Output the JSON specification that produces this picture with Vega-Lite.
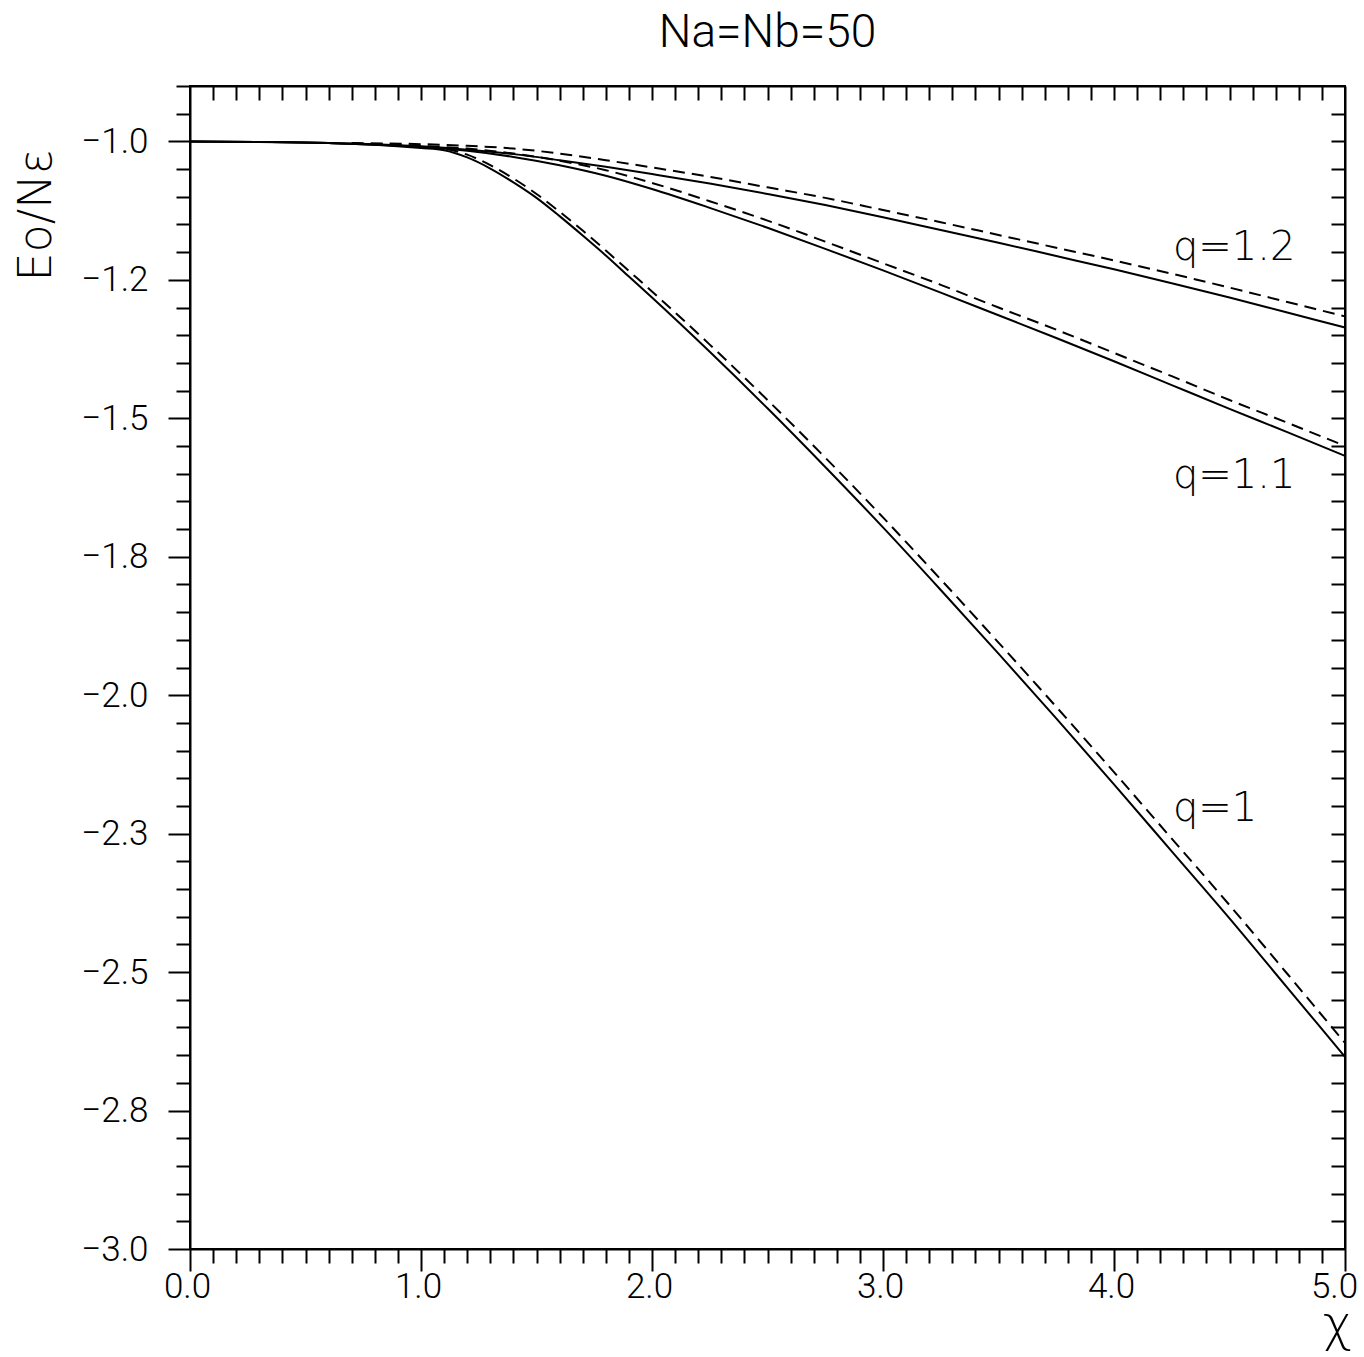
{
  "$schema": "https://vega.github.io/schema/vega-lite/v6.json",
  "width": 1155,
  "height": 1163,
  "autosize": {"type": "none"},
  "padding": {"left": 190, "top": 86, "right": 19, "bottom": 108},
  "background": "white",
  "config": {
    "view": {"stroke": "black", "strokeWidth": 2},
    "font": "Roboto",
    "axis": {"grid": false, "domainColor": "black", "tickColor": "black", "labelColor": "black", "titleColor": "black", "domainWidth": 2, "tickWidth": 2, "labelFont": "Roboto", "titleFont": "DejaVu Sans", "labelFontWeight": 300, "titleFontWeight": 200, "labelFlush": false, "labelOverlap": false, "labelBound": false}
  },
  "title": {"text": "Na=Nb=50", "fontSize": 46, "fontWeight": 300, "font": "Roboto", "color": "black", "baseline": "alphabetic", "offset": 38, "dy": 46, "anchor": "middle"},
  "datasets": {
    "solid": [
      {"q": "1", "x": 0, "y": -1.0}, {"q": "1", "x": 0.3, "y": -1.001}, {"q": "1", "x": 0.6, "y": -1.003}, {"q": "1", "x": 0.8, "y": -1.006},
      {"q": "1", "x": 1.0, "y": -1.012}, {"q": "1", "x": 1.1, "y": -1.016}, {"q": "1", "x": 1.2, "y": -1.029}, {"q": "1", "x": 1.3, "y": -1.049},
      {"q": "1", "x": 1.4, "y": -1.074}, {"q": "1", "x": 1.5, "y": -1.102}, {"q": "1", "x": 1.6, "y": -1.135}, {"q": "1", "x": 1.7, "y": -1.170},
      {"q": "1", "x": 1.8, "y": -1.206}, {"q": "1", "x": 1.9, "y": -1.244}, {"q": "1", "x": 2.0, "y": -1.282}, {"q": "1", "x": 2.25, "y": -1.380},
      {"q": "1", "x": 2.5, "y": -1.482}, {"q": "1", "x": 2.75, "y": -1.588}, {"q": "1", "x": 3.0, "y": -1.697}, {"q": "1", "x": 3.25, "y": -1.810},
      {"q": "1", "x": 3.5, "y": -1.925}, {"q": "1", "x": 3.75, "y": -2.042}, {"q": "1", "x": 4.0, "y": -2.161}, {"q": "1", "x": 4.25, "y": -2.282},
      {"q": "1", "x": 4.5, "y": -2.403}, {"q": "1", "x": 4.75, "y": -2.528}, {"q": "1", "x": 5.0, "y": -2.653},
      {"q": "1.1", "x": 0, "y": -1.0}, {"q": "1.1", "x": 0.3, "y": -1.001}, {"q": "1.1", "x": 0.6, "y": -1.003}, {"q": "1.1", "x": 0.8, "y": -1.006},
      {"q": "1.1", "x": 1.0, "y": -1.010}, {"q": "1.1", "x": 1.2, "y": -1.017}, {"q": "1.1", "x": 1.4, "y": -1.028}, {"q": "1.1", "x": 1.6, "y": -1.043},
      {"q": "1.1", "x": 1.8, "y": -1.062}, {"q": "1.1", "x": 2.0, "y": -1.086}, {"q": "1.1", "x": 2.25, "y": -1.120}, {"q": "1.1", "x": 2.5, "y": -1.156},
      {"q": "1.1", "x": 2.75, "y": -1.194}, {"q": "1.1", "x": 3.0, "y": -1.233}, {"q": "1.1", "x": 3.25, "y": -1.273}, {"q": "1.1", "x": 3.5, "y": -1.314},
      {"q": "1.1", "x": 3.75, "y": -1.355}, {"q": "1.1", "x": 4.0, "y": -1.397}, {"q": "1.1", "x": 4.25, "y": -1.440}, {"q": "1.1", "x": 4.5, "y": -1.483},
      {"q": "1.1", "x": 4.75, "y": -1.525}, {"q": "1.1", "x": 5.0, "y": -1.568},
      {"q": "1.2", "x": 0, "y": -1.0}, {"q": "1.2", "x": 0.3, "y": -1.001}, {"q": "1.2", "x": 0.6, "y": -1.003}, {"q": "1.2", "x": 0.8, "y": -1.005},
      {"q": "1.2", "x": 1.0, "y": -1.009}, {"q": "1.2", "x": 1.2, "y": -1.015}, {"q": "1.2", "x": 1.4, "y": -1.023}, {"q": "1.2", "x": 1.6, "y": -1.034},
      {"q": "1.2", "x": 1.8, "y": -1.046}, {"q": "1.2", "x": 2.0, "y": -1.059}, {"q": "1.2", "x": 2.25, "y": -1.076}, {"q": "1.2", "x": 2.5, "y": -1.095},
      {"q": "1.2", "x": 2.75, "y": -1.115}, {"q": "1.2", "x": 3.0, "y": -1.137}, {"q": "1.2", "x": 3.25, "y": -1.160}, {"q": "1.2", "x": 3.5, "y": -1.183},
      {"q": "1.2", "x": 3.75, "y": -1.207}, {"q": "1.2", "x": 4.0, "y": -1.231}, {"q": "1.2", "x": 4.25, "y": -1.256}, {"q": "1.2", "x": 4.5, "y": -1.282},
      {"q": "1.2", "x": 4.75, "y": -1.309}, {"q": "1.2", "x": 5.0, "y": -1.336}
    ],
    "dashed": [
      {"q": "1", "x": 0.7, "y": -1.004}, {"q": "1", "x": 0.9, "y": -1.007}, {"q": "1", "x": 1.0, "y": -1.010}, {"q": "1", "x": 1.1, "y": -1.013},
      {"q": "1", "x": 1.2, "y": -1.024}, {"q": "1", "x": 1.3, "y": -1.043}, {"q": "1", "x": 1.4, "y": -1.067}, {"q": "1", "x": 1.5, "y": -1.095},
      {"q": "1", "x": 1.6, "y": -1.127}, {"q": "1", "x": 1.7, "y": -1.161}, {"q": "1", "x": 1.8, "y": -1.197}, {"q": "1", "x": 1.9, "y": -1.234},
      {"q": "1", "x": 2.0, "y": -1.271}, {"q": "1", "x": 2.25, "y": -1.367}, {"q": "1", "x": 2.5, "y": -1.467}, {"q": "1", "x": 2.75, "y": -1.571},
      {"q": "1", "x": 3.0, "y": -1.679}, {"q": "1", "x": 3.25, "y": -1.791}, {"q": "1", "x": 3.5, "y": -1.905}, {"q": "1", "x": 3.75, "y": -2.021},
      {"q": "1", "x": 4.0, "y": -2.139}, {"q": "1", "x": 4.25, "y": -2.259}, {"q": "1", "x": 4.5, "y": -2.379}, {"q": "1", "x": 4.75, "y": -2.503},
      {"q": "1", "x": 5.0, "y": -2.628},
      {"q": "1.1", "x": 0.7, "y": -1.004}, {"q": "1.1", "x": 1.0, "y": -1.008}, {"q": "1.1", "x": 1.2, "y": -1.013}, {"q": "1.1", "x": 1.4, "y": -1.022},
      {"q": "1.1", "x": 1.6, "y": -1.035}, {"q": "1.1", "x": 1.8, "y": -1.052}, {"q": "1.1", "x": 2.0, "y": -1.075}, {"q": "1.1", "x": 2.25, "y": -1.108},
      {"q": "1.1", "x": 2.5, "y": -1.143}, {"q": "1.1", "x": 2.75, "y": -1.181}, {"q": "1.1", "x": 3.0, "y": -1.220}, {"q": "1.1", "x": 3.25, "y": -1.259},
      {"q": "1.1", "x": 3.5, "y": -1.300}, {"q": "1.1", "x": 3.75, "y": -1.340}, {"q": "1.1", "x": 4.0, "y": -1.382}, {"q": "1.1", "x": 4.25, "y": -1.424},
      {"q": "1.1", "x": 4.5, "y": -1.467}, {"q": "1.1", "x": 4.75, "y": -1.508}, {"q": "1.1", "x": 5.0, "y": -1.550},
      {"q": "1.2", "x": 0.7, "y": -1.003}, {"q": "1.2", "x": 1.0, "y": -1.005}, {"q": "1.2", "x": 1.2, "y": -1.008}, {"q": "1.2", "x": 1.4, "y": -1.013},
      {"q": "1.2", "x": 1.6, "y": -1.022}, {"q": "1.2", "x": 1.8, "y": -1.034}, {"q": "1.2", "x": 2.0, "y": -1.047}, {"q": "1.2", "x": 2.25, "y": -1.064},
      {"q": "1.2", "x": 2.5, "y": -1.083}, {"q": "1.2", "x": 2.75, "y": -1.102}, {"q": "1.2", "x": 3.0, "y": -1.124}, {"q": "1.2", "x": 3.25, "y": -1.146},
      {"q": "1.2", "x": 3.5, "y": -1.169}, {"q": "1.2", "x": 3.75, "y": -1.192}, {"q": "1.2", "x": 4.0, "y": -1.215}, {"q": "1.2", "x": 4.25, "y": -1.239},
      {"q": "1.2", "x": 4.5, "y": -1.264}, {"q": "1.2", "x": 4.75, "y": -1.290}, {"q": "1.2", "x": 5.0, "y": -1.316}
    ],
    "labels": [
      {"x": 4.255, "y": -1.215, "label": "q=1.2"},
      {"x": 4.255, "y": -1.625, "label": "q=1.1"},
      {"x": 4.255, "y": -2.228, "label": "q=1"}
    ]
  },
  "layer": [
    {
      "data": {"name": "solid"},
      "mark": {"type": "line", "color": "black", "strokeWidth": 2, "interpolate": "monotone"},
      "encoding": {
        "x": {"field": "x", "type": "quantitative", "scale": {"domain": [0, 5], "nice": false, "zero": false},
          "axis": {"orient": "bottom", "values": [0, 1, 2, 3, 4, 5], "format": ".1f", "tickSize": 22, "labelFontSize": 35, "labelPadding": -2,
            "labelOffset": {"condition": {"test": "datum.value == 5", "value": -11}, "value": -3},
            "title": "χ", "titleFontSize": 50, "titleX": 1147, "titleY": 91, "titleAlign": "center", "titleBaseline": "alphabetic", "titleAngle": 0}},
        "y": {"field": "y", "type": "quantitative", "scale": {"domain": [-3, -0.9], "nice": false, "zero": false},
          "axis": {"orient": "left", "values": [-1, -1.25, -1.5, -1.75, -2, -2.25, -2.5, -2.75, -3], "format": ".1f",
            "labelExpr": "datum.value == -1.25 ? '−1.2' : datum.value == -1.75 ? '−1.8' : datum.value == -2.25 ? '−2.3' : datum.value == -2.75 ? '−2.8' : datum.label",
            "tickSize": 22, "labelFontSize": 35, "labelPadding": 20,
            "title": "Eo/Nε", "titleFontSize": 46, "titleX": -140, "titleY": 129, "titleAngle": -90, "titleAlign": "center", "titleBaseline": "alphabetic"}},
        "detail": {"field": "q"}
      }
    },
    {
      "data": {"name": "labels"},
      "mark": {"type": "text", "align": "left", "baseline": "alphabetic", "fontSize": 40, "fontWeight": 200, "font": "DejaVu Sans", "color": "black"},
      "encoding": {
        "x": {"field": "x", "type": "quantitative",
          "axis": {"orient": "bottom", "values": [0.1,0.2,0.3,0.4,0.5,0.6,0.7,0.8,0.9,1.1,1.2,1.3,1.4,1.5,1.6,1.7,1.8,1.9,2.1,2.2,2.3,2.4,2.5,2.6,2.7,2.8,2.9,3.1,3.2,3.3,3.4,3.5,3.6,3.7,3.8,3.9,4.1,4.2,4.3,4.4,4.5,4.6,4.7,4.8,4.9], "tickSize": 14, "labels": false, "domain": false, "title": null}},
        "y": {"field": "y", "type": "quantitative",
          "axis": {"orient": "left", "values": [-0.9,-0.95,-1.05,-1.1,-1.15,-1.2,-1.3,-1.35,-1.4,-1.45,-1.55,-1.6,-1.65,-1.7,-1.8,-1.85,-1.9,-1.95,-2.05,-2.1,-2.15,-2.2,-2.3,-2.35,-2.4,-2.45,-2.55,-2.6,-2.65,-2.7,-2.8,-2.85,-2.9,-2.95], "tickSize": 14, "labels": false, "domain": false, "title": null}},
        "text": {"field": "label"}
      }
    },
    {
      "data": {"name": "dashed"},
      "mark": {"type": "line", "color": "black", "strokeWidth": 2, "strokeDash": [12, 7], "interpolate": "monotone"},
      "encoding": {
        "x": {"field": "x", "type": "quantitative",
          "axis": {"orient": "top", "values": [0.1,0.2,0.3,0.4,0.5,0.6,0.7,0.8,0.9,1,1.1,1.2,1.3,1.4,1.5,1.6,1.7,1.8,1.9,2,2.1,2.2,2.3,2.4,2.5,2.6,2.7,2.8,2.9,3,3.1,3.2,3.3,3.4,3.5,3.6,3.7,3.8,3.9,4,4.1,4.2,4.3,4.4,4.5,4.6,4.7,4.8,4.9], "tickSize": -14, "labels": false, "domain": true, "title": null}},
        "y": {"field": "y", "type": "quantitative",
          "axis": {"orient": "right", "values": [-0.95,-1,-1.05,-1.1,-1.15,-1.2,-1.25,-1.3,-1.35,-1.4,-1.45,-1.5,-1.55,-1.6,-1.65,-1.7,-1.75,-1.8,-1.85,-1.9,-1.95,-2,-2.05,-2.1,-2.15,-2.2,-2.25,-2.3,-2.35,-2.4,-2.45,-2.5,-2.55,-2.6,-2.65,-2.7,-2.75,-2.8,-2.85,-2.9,-2.95], "tickSize": -14, "labels": false, "domain": true, "title": null}},
        "detail": {"field": "q"}
      }
    }
  ],
  "resolve": {"axis": {"x": "independent", "y": "independent"}}
}
